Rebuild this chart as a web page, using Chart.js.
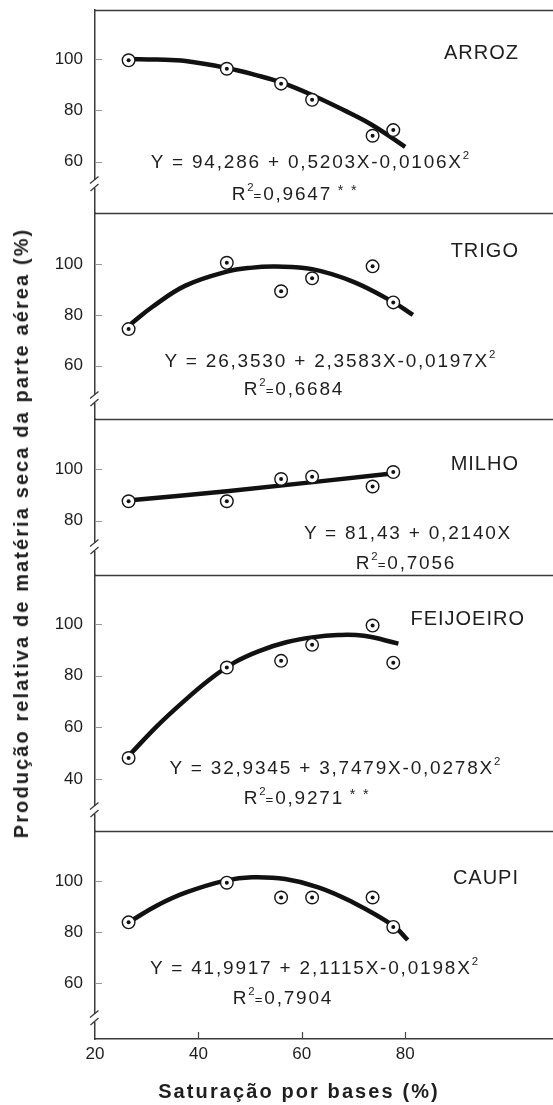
<!DOCTYPE html>
<html lang="pt">
<head>
<meta charset="UTF-8">
<title>Produção relativa x Saturação por bases</title>
<script src="https://cdn.jsdelivr.net/npm/chart.js"></script>
<style>
    body { margin: 0; background: #fff; }
    #wrap { position: relative; width: 553px; height: 1105px; overflow: hidden; }
    canvas { position: absolute; left: 0; }
    .lbl { position: absolute; font-family: 'Liberation Sans', Arial, sans-serif; color: #1e1e1e;
           white-space: nowrap; line-height: 1; transform: translate(-50%, -50%); }
    .name { font-size: 20px; letter-spacing: 1px; transform: translate(-100%, -50%); }
    .eq { font-size: 19px; letter-spacing: 1.8px; }
    .eq sup { font-size: 0.6em; vertical-align: 0.75em; line-height: 0; letter-spacing: 0; }
    .eq .sm { font-size: 0.7em; }
    .eq .ast { font-size: 0.75em; vertical-align: 0.35em; }
    .title { font-weight: bold; font-size: 20px; letter-spacing: 2.1px; }
</style>
</head>
<body>
<div id="wrap"></div>

<script>
// pontos observados (saturação por bases, %)
const pointX = [26.5, 45.5, 56, 62, 73.7, 77.7];

const arrozY     = [99.5, 96.2, 90.4, 84.1, 70.1, 72.3];
const trigoY     = [74.4, 100.5, 89.3, 94.4, 99.1, 84.9];
const milhoY     = [87.5, 87.5, 96.1, 97.0, 93.2, 98.8];
const feijoeiroY = [48.1, 83.2, 85.8, 92.0, 99.5, 85.1];
const caupiY     = [83.9, 99.4, 93.6, 93.6, 93.6, 82.1];

// curvas ajustadas
const arrozFitX = [26.4, 32, 37.5, 45.7, 51, 56.4, 62.6, 68, 73.6, 80];
const arrozFitY = [100, 99.8, 99.2, 96.4, 93.8, 90.6, 85.4, 80.2, 74.3, 65.8];
const trigoFitX = [27, 31, 37.5, 45.5, 50, 55, 62, 70, 77.7, 81.5];
const trigoFitY = [76.5, 83, 91.5, 97, 98.5, 99, 98, 93, 85, 80];
const milhoFitX = [26.3, 45.5, 77];
const milhoFitY = [87.8, 91.4, 98.1];
const feijoeiroFitX = [27, 32, 37, 42, 47, 52, 57, 62, 67, 72, 78.7];
const feijoeiroFitY = [50, 60.5, 69.8, 78.3, 85.2, 89.8, 93, 94.9, 95.8, 95.5, 92.5];
const caupiFitX = [27, 32, 37.5, 45.4, 50.4, 56.8, 63.2, 69.6, 77.7, 80.5];
const caupiFitY = [84.5, 90.5, 95.5, 100.3, 101.5, 100.8, 97.6, 92, 82.6, 77];

const crops = ['ARROZ', 'TRIGO', 'MILHO', 'FEIJOEIRO', 'CAUPI'];
const equations = [
    'Y = 94,286 + 0,5203X-0,0106X<sup>2</sup>',
    'Y = 26,3530 + 2,3583X-0,0197X<sup>2</sup>',
    'Y = 81,43 + 0,2140X',
    'Y = 32,9345 + 3,7479X-0,0278X<sup>2</sup>',
    'Y = 41,9917 + 2,1115X-0,0198X<sup>2</sup>'
];
const r2Labels = [
    'R<sup>2</sup><span class="sm">=</span>0,9647<span class="ast"> * *</span>',
    'R<sup>2</sup><span class="sm">=</span>0,6684',
    'R<sup>2</sup><span class="sm">=</span>0,7056',
    'R<sup>2</sup><span class="sm">=</span>0,9271<span class="ast"> * *</span>',
    'R<sup>2</sup><span class="sm">=</span>0,7904'
];

const xTicks = [20, 40, 60, 80];
const yTicks = [[60, 80, 100], [60, 80, 100], [80, 100], [40, 60, 80, 100], [60, 80, 100]];

const obsY = [arrozY, trigoY, milhoY, feijoeiroY, caupiY];
const fitX = [arrozFitX, trigoFitX, milhoFitX, feijoeiroFitX, caupiFitX];
const fitY = [arrozFitY, trigoFitY, milhoFitY, feijoeiroFitY, caupiFitY];

// layout of each panel (page pixels) and axis range
const panels = [
    { top: 10,  bottom: 213,  min: 40,   max: 119.1, brk: 29, name: [519, 52],  eq: [310, 161], r2: [295, 193] },
    { top: 213, bottom: 419,  min: 39,   max: 120.1, brk: 20, name: [519, 250], eq: [330, 360], r2: [294, 388] },
    { top: 419, bottom: 575,  min: 59,   max: 119.3, brk: 28, name: [519, 463], eq: [408, 532], r2: [406, 562] },
    { top: 575, bottom: 831,  min: 19.8, max: 119.1, brk: 21, name: [525, 618], eq: [335, 767], r2: [307, 797] },
    { top: 831, bottom: 1039, min: 38.3, max: 119.6, brk: 21, name: [519, 877], eq: [314, 967], r2: [283, 997] }
];

const FONT = "'Liberation Sans', Arial, sans-serif";
const wrap = document.getElementById('wrap');

function addLabel(html, cls, x, y) {
    const d = document.createElement('div');
    d.className = 'lbl ' + cls;
    d.innerHTML = html;
    d.style.left = x + 'px';
    d.style.top = y + 'px';
    wrap.appendChild(d);
    return d;
}

function noPadding(s) {
    s.paddingTop = 0;
    s.paddingBottom = 0;
    s.paddingLeft = 0;
    s.paddingRight = 0;
}

// frame line on top, inward ticks and axis break marks
const framePlugin = {
    id: 'frame',
    afterDraw(chart, args, opts) {
        const ctx = chart.ctx;
        const a = chart.chartArea;
        const ys = chart.scales.y, xs = chart.scales.x;
        ctx.save();
        ctx.strokeStyle = '#3a3a3a';
        ctx.lineWidth = 1.3;
        ctx.beginPath();
        ctx.moveTo(a.left, a.top + 0.5);
        ctx.lineTo(chart.width, a.top + 0.5);
        ctx.stroke();

        ctx.strokeStyle = '#999';
        ctx.lineWidth = 1;
        ys.ticks.forEach(t => {
            const y = Math.round(ys.getPixelForValue(t.value)) + 0.5;
            ctx.beginPath();
            ctx.moveTo(a.left, y);
            ctx.lineTo(a.left + 7, y);
            ctx.stroke();
        });
        if (opts.last) {
            ctx.strokeStyle = '#444';
            ctx.lineWidth = 1.2;
            xs.ticks.forEach(t => {
                if (t.value === xs.min) return;
                const x = Math.round(xs.getPixelForValue(t.value)) + 0.5;
                ctx.beginPath();
                ctx.moveTo(x, a.bottom);
                ctx.lineTo(x, a.bottom - 7);
                ctx.stroke();
            });
        }

        const yb = a.bottom - opts.brk;
        ctx.fillStyle = '#fff';
        ctx.fillRect(a.left - 2, yb - 4, 4, 8);
        ctx.strokeStyle = '#3a3a3a';
        ctx.lineWidth = 1.3;
        ctx.beginPath();
        ctx.moveTo(a.left - 5, yb - 0.5);
        ctx.lineTo(a.left + 3.5, yb - 7.5);
        ctx.moveTo(a.left - 4.5, yb + 7);
        ctx.lineTo(a.left + 3.5, yb);
        ctx.stroke();
        ctx.restore();
    }
};

panels.forEach((p, i) => {
    const last = i === panels.length - 1;
    const canvas = document.createElement('canvas');
    const cTop = p.top - 5;
    const cH = last ? 1105 - cTop : (p.bottom - p.top) + 10;
    canvas.width = 553;
    canvas.height = cH;
    canvas.style.top = cTop + 'px';
    canvas.style.width = '553px';
    canvas.style.height = cH + 'px';
    wrap.appendChild(canvas);

    const obs = pointX.map((x, k) => ({ x: x, y: obsY[i][k] }));
    const fit = fitX[i].map((x, k) => ({ x: x, y: fitY[i][k] }));

    new Chart(canvas, {
        type: 'scatter',
        data: {
            datasets: [
                { data: obs, pointRadius: 2, pointBackgroundColor: '#111', pointBorderWidth: 0, order: 0 },
                { data: obs, pointRadius: 6.3, pointBackgroundColor: '#fff', pointBorderColor: '#161616', pointBorderWidth: 1.4, order: 1 },
                { type: 'line', data: fit, borderColor: '#111', borderWidth: 4.5, pointRadius: 0,
                  tension: 0.4, fill: false, order: 2 }
            ]
        },
        options: {
            responsive: false,
            animation: false,
            events: [],
            layout: { autoPadding: false, padding: { top: 5, bottom: last ? 0 : 5, left: 0, right: 0 } },
            plugins: {
                legend: { display: false },
                tooltip: { enabled: false },
                frame: { brk: p.brk, last: last }
            },
            scales: {
                x: {
                    type: 'linear',
                    min: 20,
                    max: 108.6,
                    display: last,
                    grid: { display: false, drawTicks: false },
                    border: { display: true, color: '#3a3a3a', width: 1.5 },
                    ticks: { padding: 5, color: '#1e1e1e', font: { family: FONT, size: 17 } },
                    afterBuildTicks: s => { s.ticks = xTicks.map(v => ({ value: v })); },
                    afterFit: s => { s.height = last ? 66 : 0; noPadding(s); }
                },
                y: {
                    min: p.min,
                    max: p.max,
                    grid: { display: false, drawTicks: false },
                    border: { display: true, color: '#3a3a3a', width: 1.5 },
                    ticks: { padding: 12, color: '#1e1e1e', font: { family: FONT, size: 17 } },
                    afterBuildTicks: s => { s.ticks = yTicks[i].map(v => ({ value: v })); },
                    afterFit: s => { s.width = 95; noPadding(s); }
                }
            }
        },
        plugins: [framePlugin]
    });

    addLabel(crops[i], 'name', p.name[0], p.name[1]);
    addLabel(equations[i], 'eq', p.eq[0], p.eq[1]);
    addLabel(r2Labels[i], 'eq', p.r2[0], p.r2[1]);
});

const yTitle = addLabel('Produção relativa de matéria seca da parte aérea (%)', 'title', 21, 533);
yTitle.style.transform = 'translate(-50%, -50%) rotate(-90deg)';
addLabel('Saturação por bases (%)', 'title', 299, 1091);
</script>
</body>
</html>
